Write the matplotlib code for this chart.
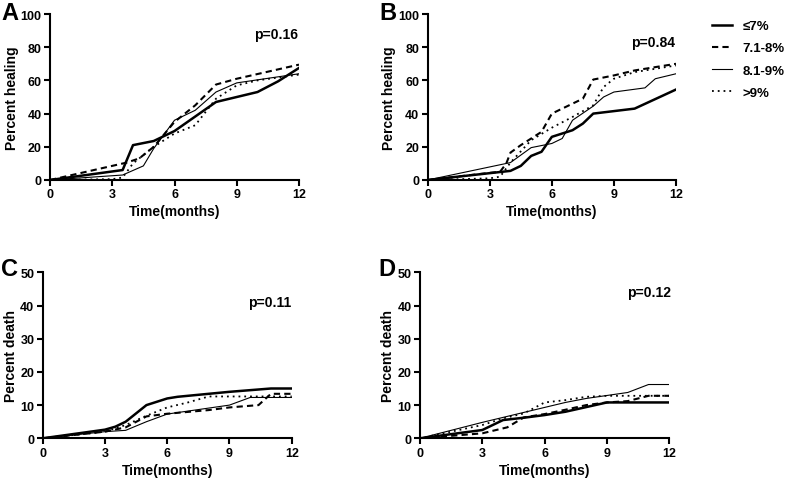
import matplotlib
matplotlib.use("Agg")
import matplotlib.pyplot as plt

plt.rcParams['font.family'] = ['Liberation Sans', 'DejaVu Sans']
plt.rcParams['font.weight'] = 'bold'
plt.rcParams['axes.labelweight'] = 'bold'

labels = ["≤7%", "7.1-8%", "8.1-9%", ">9%"]

# panel A, percent healing
a_t1 = [0, 3.5, 4, 5, 6, 8, 10, 11, 12]
a_v1 = [0, 6, 21, 23.5, 29.5, 47, 53, 59.5, 67.5]
a_t2 = [0, 3.7, 4.3, 5, 6, 7, 8, 9, 12]
a_v2 = [0, 10.5, 13, 20, 35, 45, 57.5, 61, 69.5]
a_t3 = [0, 3.5, 4.5, 5, 6, 7, 8, 9, 12]
a_v3 = [0, 3, 8.5, 19, 36, 42, 53, 58.5, 64]
a_t4 = [0, 3, 3.5, 4, 5, 6, 7, 8, 9, 10, 12]
a_v4 = [0, 0.5, 1.5, 10, 20, 28, 33, 49, 57, 60, 63.5]

# panel B, percent healing
b_t1 = [0, 4, 4.5, 5, 5.5, 6, 7, 7.5, 8, 10, 12]
b_v1 = [0, 5.5, 8.5, 14.5, 17, 26, 30, 34, 40, 43, 54.5]
b_t2 = [0, 3.5, 3.8, 4, 4.5, 5, 5.5, 6, 7, 7.5, 8, 9, 10, 12]
b_v2 = [0, 5, 10, 16.5, 21, 25, 29, 40, 46, 49, 60.5, 63, 66, 70]
b_t3 = [0, 4, 5, 6, 6.5, 7, 8, 8.5, 9, 10.5, 11, 12]
b_v3 = [0, 10.5, 19.5, 22, 25, 36, 44.5, 50, 53, 55.5, 61, 64]
b_t4 = [0, 3, 3.5, 4, 5, 6, 7, 8, 8.5, 9, 10, 12]
b_v4 = [0, 1, 2, 10.5, 24, 31.5, 38, 45, 56, 61, 65, 69]

# panel C, percent death
c_t1 = [0, 3, 3.5, 4, 5, 6, 6.5, 9, 11, 12]
c_v1 = [0, 2.6, 3.5, 5, 10, 12, 12.5, 14, 15, 15]
c_t2 = [0, 3, 4, 5, 6, 8, 9, 10.4, 11, 12]
c_v2 = [0, 2, 3.3, 6.6, 7.4, 8.5, 9.3, 10, 13.4, 13.4]
c_t3 = [0, 3, 4, 5, 6, 9, 10, 12]
c_v3 = [0, 2, 2.4, 5, 7.3, 10, 12.3, 12.3]
c_t4 = [0, 3, 4, 5, 6, 7, 8, 12]
c_v4 = [0, 2, 4, 6.8, 9.3, 10.8, 12.6, 12.6]

# panel D, percent death
d_t1 = [0, 3, 4, 5, 6, 7, 9, 12]
d_v1 = [0, 2.5, 5.5, 6.2, 7, 8, 10.8, 10.8]
d_t2 = [0, 3, 4.2, 5, 6, 7, 8, 9, 10, 11, 12]
d_v2 = [0, 1.5, 3.3, 6.3, 7.3, 8.6, 10, 10.8, 11.2, 12.8, 12.8]
d_t3 = [0, 3, 4, 5, 6, 7, 8, 9, 10, 11, 12]
d_v3 = [0, 4.8, 6.3, 7.8, 9.3, 10.8, 12, 12.9, 13.8, 16.2, 16.2]
d_t4 = [0, 3, 4, 5, 6, 7, 8, 9, 12]
d_v4 = [0, 4, 6, 7.5, 10.8, 11.5, 12.5, 12.8, 12.8]

styles = [dict(color="black", lw=1.8, ls="-"),
          dict(color="black", lw=1.5, ls=(0, (3, 2))),
          dict(color="black", lw=0.8, ls="-"),
          dict(color="black", lw=1.3, ls=(0, (1, 2.2)))]

def panel(rect, series, ymax, ystep, ylabel, letter, ptext, ppos):
    ax = fig.add_axes(rect)
    for (t, v), st in zip(series, styles):
        ax.plot(t, v, **st)
    ax.set_xlim(0, 12)
    ax.set_ylim(0, ymax)
    ax.set_xticks([0, 3, 6, 9, 12])
    ax.set_yticks(range(0, ymax + 1, ystep))
    for s in ["top", "right"]:
        ax.spines[s].set_visible(False)
    for s in ["left", "bottom"]:
        ax.spines[s].set_linewidth(1.5)
    ax.tick_params(width=1.5, length=4, labelsize=9, pad=2)
    ax.set_xlabel("Time(months)", fontsize=10, labelpad=3)
    ax.set_ylabel(ylabel, fontsize=10, labelpad=1.5)
    ax.text(ppos[0], ppos[1], ptext, fontsize=10, ha="center", va="center")
    fig.text(letter[1], letter[2], letter[0], fontsize=17, ha="center", va="center")
    return ax

fig = plt.figure(figsize=(7.87, 4.81), dpi=100)

ax = panel([50/787, 1-181/481, 249/787, 166/481],
           [(a_t1, a_v1), (a_t2, a_v2), (a_t3, a_v3), (a_t4, a_v4)],
           100, 20, "Percent healing", ("A", 10/787, 1-13/481), "p=0.16", (10.9, 88))
panel([427.7/787, 1-181/481, 248.3/787, 166/481],
      [(b_t1, b_v1), (b_t2, b_v2), (b_t3, b_v3), (b_t4, b_v4)],
      100, 20, "Percent healing", ("B", 388/787, 1-13/481), "p=0.84", (10.9, 83))
panel([42.7/787, 1-439.3/481, 249/787, 166/481],
      [(c_t1, c_v1), (c_t2, c_v2), (c_t3, c_v3), (c_t4, c_v4)],
      50, 10, "Percent death", ("C", 9/787, 1-270/481), "p=0.11", (10.95, 41))
panel([420/787, 1-439.3/481, 249.3/787, 166/481],
      [(d_t1, d_v1), (d_t2, d_v2), (d_t3, d_v3), (d_t4, d_v4)],
      50, 10, "Percent death", ("D", 387/787, 1-270/481), "p=0.12", (11.0, 44))

handles = ax.get_lines()
fig.legend(handles, labels, loc="upper left", bbox_to_anchor=(712/787, 1-21/481),
           frameon=False, fontsize=9.5, handlelength=1.5, handletextpad=0.8,
           labelspacing=0.75, borderpad=0, borderaxespad=0)

fig.savefig("out.png", dpi=100)
